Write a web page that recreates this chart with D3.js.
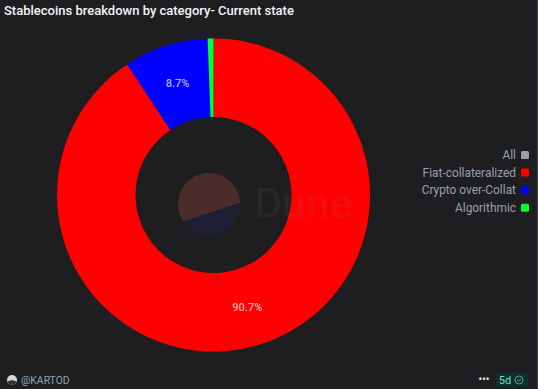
<!DOCTYPE html>
<html>
<head>
<meta charset="utf-8">
<script src="https://cdn.jsdelivr.net/npm/d3@7"></script>
<style>
    html, body { margin: 0; padding: 0; background: #1e1e20; overflow: hidden; }
    text { font-family: Roboto, sans-serif; }
</style>
</head>
<body>
<div id="chart"></div>
<script>
const categories = ["Fiat-collateralized", "Crypto over-Collat", "Algorithmic"];
const shares = [90.7, 8.7, 0.6];
const sliceColors = ["#ff0000", "#0000ff", "#00ff33"];
const legendLabels = ["All", "Fiat-collateralized", "Crypto over-Collat", "Algorithmic"];
const legendColors = ["#9a9ea6", "#ff0000", "#0000ff", "#00ff33"];

const width = 538, height = 389;

const svg = d3.select("#chart").append("svg")
    .attr("width", width)
    .attr("height", height)
    .style("display", "block");

// thin edge of the window on the right
svg.append("rect")
    .attr("x", 537)
    .attr("y", 0)
    .attr("width", 1)
    .attr("height", height)
    .attr("fill", "#4a4650");

// title
svg.append("text")
    .attr("x", 4)
    .attr("y", 15)
    .attr("fill", "#f2f4f7")
    .attr("font-size", 13)
    .attr("font-weight", 500)
    .text("Stablecoins breakdown by category- Current state");

// donut
const pie = d3.pie().sort(null)(shares);
const arc = d3.arc().innerRadius(78).outerRadius(156.5);

const donut = svg.append("g").attr("transform", "translate(213.5,195)");

donut.selectAll("path")
    .data(pie)
    .enter().append("path")
    .attr("d", arc)
    .attr("fill", (d, i) => sliceColors[i]);

// slice labels, the smallest one has none
donut.selectAll("text")
    .data(pie.filter(d => d.data > 1))
    .enter().append("text")
    .attr("transform", d => `translate(${arc.centroid(d)})`)
    .attr("text-anchor", "middle")
    .attr("dy", "0.35em")
    .attr("fill", "#ffffff")
    .attr("fill-opacity", 0.7)
    .attr("font-size", 11)
    .attr("font-weight", 500)
    .text(d => d.data + "%");

// Dune watermark, a circle cut by a slanted chord
const mark = svg.append("g").attr("transform", "translate(209,204)");
const chordA = -0.032, chordB = 2.544;
const topPart = d3.path();
topPart.arc(0, 0, 31, chordB, chordA + 2 * Math.PI);
topPart.closePath();
const bottomPart = d3.path();
bottomPart.arc(0, 0, 31, chordA, chordB);
bottomPart.closePath();
mark.append("path").attr("d", topPart.toString()).attr("fill", "#4a2c2a");
mark.append("path").attr("d", bottomPart.toString()).attr("fill", "#1f1f33");

svg.append("text")
    .attr("x", 254)
    .attr("y", 218)
    .attr("fill", "#8a8f98")
    .attr("fill-opacity", 0.1)
    .attr("font-size", 43)
    .attr("font-weight", 500)
    .text("Dune");

// legend
const legend = svg.selectAll(".legend")
    .data(legendLabels)
    .enter().append("g")
    .attr("class", "legend")
    .attr("transform", (d, i) => `translate(0,${155 + i * 17.6})`);

legend.append("text")
    .attr("x", 516)
    .attr("text-anchor", "end")
    .attr("dy", "0.35em")
    .attr("fill", "#96a0ae")
    .attr("font-size", 11.9)
    .text(d => d);

legend.append("rect")
    .attr("x", 521)
    .attr("y", -4)
    .attr("width", 8)
    .attr("height", 8)
    .attr("rx", 1.5)
    .attr("fill", (d, i) => legendColors[i]);

// footer
const avatar = svg.append("g").attr("transform", "translate(12,380)");
avatar.append("circle").attr("r", 5).attr("fill", "#d8d8d8");
avatar.append("path").attr("d", d3.arc().innerRadius(0).outerRadius(5)({startAngle: 1.9, endAngle: 4.4})).attr("fill", "#333333");

svg.append("text")
    .attr("x", 21)
    .attr("y", 384)
    .attr("fill", "#8fa3b8")
    .attr("font-size", 10.4)
    .text("@KARTOD");

svg.append("text")
    .attr("x", 484)
    .attr("y", 383)
    .attr("text-anchor", "middle")
    .attr("fill", "#e6e6e6")
    .attr("font-size", 10)
    .attr("font-weight", 700)
    .text("•••");

svg.append("rect")
    .attr("x", 496)
    .attr("y", 373)
    .attr("width", 32)
    .attr("height", 14)
    .attr("rx", 3)
    .attr("fill", "#10302a");

svg.append("text")
    .attr("x", 505)
    .attr("y", 384)
    .attr("text-anchor", "middle")
    .attr("fill", "#6fe0b8")
    .attr("font-size", 11)
    .text("5d");

svg.append("circle")
    .attr("cx", 519).attr("cy", 380).attr("r", 4)
    .attr("fill", "none").attr("stroke", "#4f9e82").attr("stroke-width", 1);

svg.append("path")
    .attr("d", d3.line()([[517, 380], [518.5, 381.5], [521, 378.5]]))
    .attr("fill", "none").attr("stroke", "#4f9e82").attr("stroke-width", 1);
</script>
</body>
</html>
